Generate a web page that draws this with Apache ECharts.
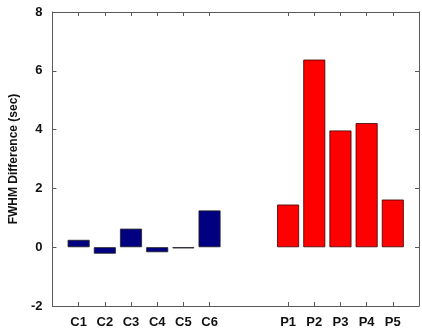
<!DOCTYPE html>
<html><head><meta charset="utf-8">
<script src="https://cdn.jsdelivr.net/npm/echarts@6/dist/echarts.min.js"></script>
<style>html,body{margin:0;padding:0;background:#fff}#c{width:422px;height:333px}</style>
</head><body><div id="c"></div>
<script>
// slots along x: blank edges and a gap between groups
const categories = ['', 'C1', 'C2', 'C3', 'C4', 'C5', 'C6', '', '', 'P1', 'P2', 'P3', 'P4', 'P5', ''];
const controlValues = [null, 0.25, -0.22, 0.63, -0.17, -0.04, 1.25, null, null, null, null, null, null, null, null];
const patientValues = [null, null, null, null, null, null, null, null, null, 1.45, 6.38, 3.97, 4.22, 1.62, null];
const yTicks = [-2, 0, 2, 4, 6, 8];

const font = 'Liberation Sans, Arial, sans-serif';
const axisCol = '#5a5a5a';
const tickInterval = (i, v) => v !== '';
const chart = echarts.init(document.getElementById('c'), null, {renderer: 'canvas'});
chart.setOption({
  animation: false,
  grid: {left: 51, top: 12, width: 373, height: 294},
  xAxis: [{
    type: 'category', data: categories, boundaryGap: false, position: 'bottom',
    axisLine: {onZero: false, lineStyle: {color: axisCol, width: 1}},
    axisTick: {inside: true, length: 4, interval: tickInterval, lineStyle: {color: axisCol}},
    axisLabel: {interval: 0, margin: 10, color: '#111', fontFamily: font, fontWeight: 'bold', fontSize: 13},
    splitLine: {show: false}
  }, {
    type: 'category', data: categories, boundaryGap: false, position: 'top',
    axisLine: {onZero: false, lineStyle: {color: axisCol, width: 1}},
    axisTick: {inside: true, length: 4, interval: tickInterval, lineStyle: {color: axisCol}},
    axisLabel: {show: false}, splitLine: {show: false}
  }],
  yAxis: [{
    type: 'value', min: yTicks[0], max: yTicks[yTicks.length - 1], interval: 2,
    name: 'FWHM Difference (sec)', nameLocation: 'middle', nameGap: 32,
    nameTextStyle: {fontFamily: font, fontWeight: 'bold', fontSize: 12, color: '#111'},
    axisLine: {show: true, onZero: false, lineStyle: {color: axisCol, width: 1}},
    axisTick: {show: true, inside: true, length: 4, lineStyle: {color: axisCol}},
    axisLabel: {margin: 10, color: '#111', fontFamily: font, fontWeight: 'bold', fontSize: 13},
    splitLine: {show: false}
  }, {
    type: 'value', min: yTicks[0], max: yTicks[yTicks.length - 1], interval: 2, position: 'right',
    axisLine: {show: true, onZero: false, lineStyle: {color: axisCol, width: 1}},
    axisTick: {show: true, inside: true, length: 4, lineStyle: {color: axisCol}},
    axisLabel: {show: false}, splitLine: {show: false}
  }],
  series: [{
    type: 'bar', data: controlValues, barWidth: 22, barGap: '-100%',
    itemStyle: {color: '#000080', borderColor: '#222', borderWidth: 0.8}
  }, {
    type: 'bar', data: patientValues, barWidth: 22, barGap: '-100%',
    itemStyle: {color: '#ff0000', borderColor: '#3a0000', borderWidth: 0.8}
  }]
});
</script></body></html>
